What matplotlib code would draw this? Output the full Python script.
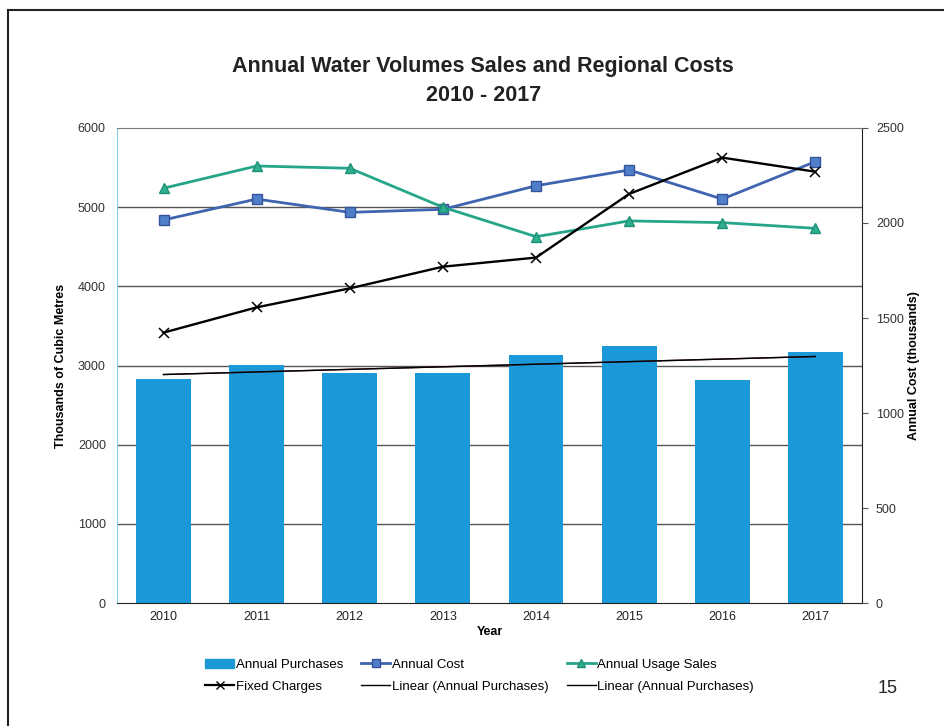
import matplotlib
matplotlib.use("Agg")
import matplotlib.pyplot as plt
import numpy as np
from matplotlib.lines import Line2D
from matplotlib.patches import Patch

plt.rcParams['font.family'] = ['Liberation Sans', 'DejaVu Sans']

years = ["2010", "2011", "2012", "2013", "2014", "2015", "2016", "2017"]
annual_purchases = [2825, 3005, 2904, 2904, 3127, 3245, 2821, 3169]
annual_cost = [2016, 2126, 2056, 2072, 2196, 2279, 2126, 2323]
annual_usage_sales = [2183, 2300, 2288, 2083, 1928, 2011, 2002, 1972]
fixed_charges = [1423, 1556, 1656, 1770, 1818, 2153, 2344, 2270]
left_ticks = [0, 1000, 2000, 3000, 4000, 5000, 6000]
right_ticks = [0, 500, 1000, 1500, 2000, 2500]

fig = plt.figure(figsize=(9.44, 7.26), dpi=100)
ax = fig.add_axes([0.1239, 0.1694, 0.7892, 0.6543])
x = np.arange(len(years))

bar_color = "#1B98D8"
ax.bar(x, annual_purchases, width=0.59, color=bar_color, zorder=2)
coef = np.polyfit(x, annual_purchases, 1)
trend = np.polyval(coef, x)
ax.plot(x, trend, color="#6a2a4a", lw=1.0, zorder=3)
ax.plot(x, trend, color="black", lw=1.0, zorder=3)

ax.set_ylim(0, 6000)
ax.set_xlim(-0.5, len(years) - 0.5)
ax.set_yticks(left_ticks)
ax.set_yticklabels([str(v) for v in left_ticks], fontsize=9, color="#333333")
ax.set_xticks(x)
ax.set_xticklabels(years, fontsize=9, color="#222222")
ax.tick_params(axis='y', length=0, pad=8)
ax.tick_params(axis='x', length=0, pad=6)
for v in left_ticks[1:-1]:
    ax.axhline(v, color="#555555", lw=1.0, zorder=1)
ax.spines['left'].set_color("#7fd0e8")
ax.spines['top'].set_color("#777777")
ax.spines['right'].set_color("#222222")
ax.spines['bottom'].set_color("#222222")
ax.set_xlabel("Year", fontsize=9, fontweight='bold', labelpad=2)
ax.set_ylabel("Thousands of Cubic Metres", fontsize=9, fontweight='bold', labelpad=8)

ax2 = ax.twinx()
ax2.set_ylim(0, 2500)
ax2.set_yticks(right_ticks)
ax2.set_yticklabels([str(v) for v in right_ticks], fontsize=9, color="#333333")
ax2.tick_params(axis='y', length=4, color="#555555", pad=6)
for s in ax2.spines.values():
    s.set_visible(False)
ax2.set_ylabel("Annual Cost (thousands)", fontsize=9, fontweight='bold', labelpad=3)

cost_color = "#3F64B0"
sales_color = "#25A58A"
ax2.plot(x, annual_cost, color=cost_color, lw=2.0, marker='s', markersize=7,
         markerfacecolor="#4F7FC8", markeredgecolor="#34539a", zorder=5)
ax2.plot(x, annual_usage_sales, color=sales_color, lw=2.0, marker='^', markersize=7,
         markerfacecolor="#2DB090", markeredgecolor="#1f8f75", zorder=5)
ax2.plot(x, fixed_charges, color="black", lw=1.7, marker='x', markersize=7,
         markeredgewidth=1.1, zorder=6)

fig.text(0.512, 0.908, "Annual Water Volumes Sales and Regional Costs", ha='center',
         va='center', fontsize=15.5, fontweight='bold', color="#222222")
fig.text(0.512, 0.868, "2010 - 2017", ha='center', va='center', fontsize=15.5,
         fontweight='bold', color="#222222")

handles = [
    Patch(color=bar_color),
    Line2D([], [], color=cost_color, lw=2.0, marker='s', markersize=6,
           markerfacecolor="#4F7FC8", markeredgecolor="#34539a"),
    Line2D([], [], color=sales_color, lw=2.0, marker='^', markersize=6,
           markerfacecolor="#2DB090", markeredgecolor="#1f8f75"),
    Line2D([], [], color="black", lw=1.6, marker='x', markersize=6),
    Line2D([], [], color="black", lw=1.0),
    Line2D([], [], color="black", lw=1.0),
]
labels = ["Annual Purchases", "Annual Cost", "Annual Usage Sales",
          "Fixed Charges", "Linear (Annual Purchases)", "Linear (Annual Purchases)"]
order = [0, 3, 1, 4, 2, 5]
fig.legend([handles[i] for i in order], [labels[i] for i in order], ncol=3,
           loc='center', bbox_to_anchor=(0.508, 0.069), frameon=False,
           fontsize=9.5, handlelength=2.2, handletextpad=0.1, columnspacing=1.4,
           labelspacing=0.75)

fig.text(0.94, 0.052, "15", ha='center', va='center', fontsize=13, color="#222222")
fig.add_artist(Line2D([0.009, 0.009], [0.0, 0.986], transform=fig.transFigure,
                      color="#222222", lw=1.5))
fig.add_artist(Line2D([0.009, 1.0], [0.986, 0.986], transform=fig.transFigure,
                      color="#222222", lw=1.5))

fig.savefig("out.png", dpi=100)
